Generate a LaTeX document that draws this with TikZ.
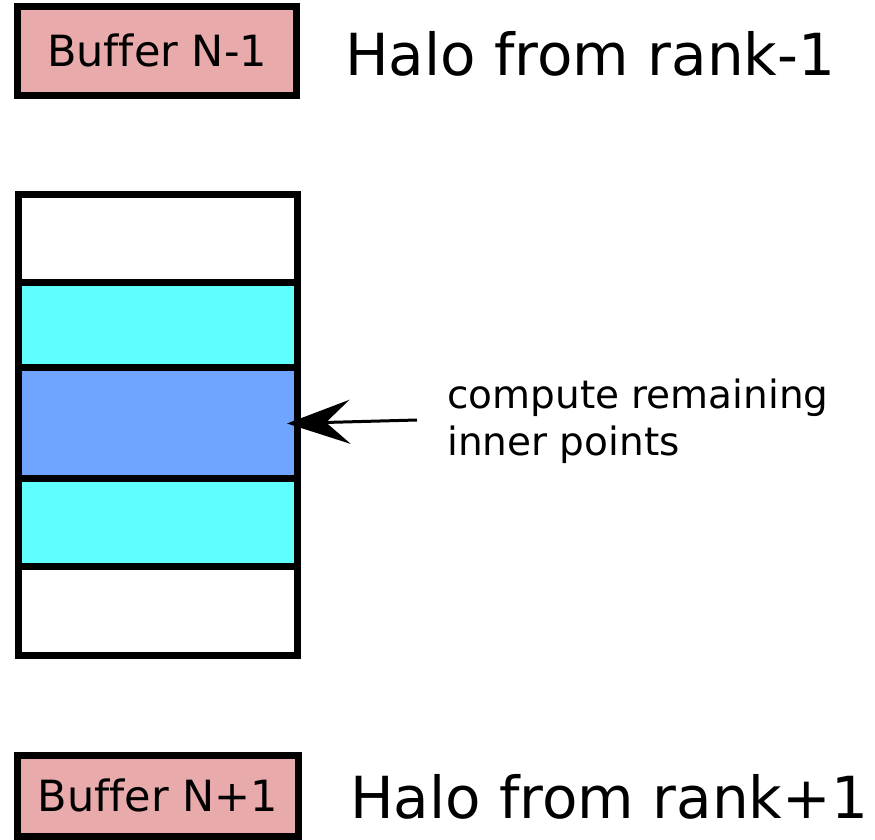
\documentclass[tikz,border=0pt]{standalone}
\usepackage{fontspec}
\setmainfont[Ligatures=NoCommon]{DejaVu Sans}
\usetikzlibrary{arrows.meta}
\definecolor{bufpink}{RGB}{232,170,170}
\definecolor{cellcyan}{RGB}{96,255,255}
\definecolor{cellblue}{RGB}{112,165,255}
\begin{document}
\begin{tikzpicture}[x=1pt,y=1pt,
  box/.style={draw=black,line width=7pt,rectangle,inner sep=0pt,outer sep=0pt},
  bufbox/.style={box,fill=bufpink,font=\fontsize{43}{51}\selectfont},
  cell/.style={box,minimum width=279pt,anchor=north west},
  halo/.style={anchor=base west,inner sep=0pt,font=\fontsize{58}{69}\selectfont},
  note/.style={anchor=base west,inner sep=0pt,font=\fontsize{39}{47}\selectfont}]
\useasboundingbox (0,0) rectangle (875,-839);
% top buffer
\node[bufbox,minimum width=279pt,minimum height=88.5pt] (bufA) at (157,-50.75) {Buffer N-1};
\node[halo] (haloA) at (345,-75) {Halo from rank-1};
% stack
\node[cell,fill=white,minimum height=88pt] (c1) at (18,-194) {};
\node[cell,fill=cellcyan,minimum height=85pt] (c2) at (18,-282) {};
\node[cell,fill=cellblue,minimum height=111pt] (c3) at (18,-367) {};
\node[cell,fill=cellcyan,minimum height=88pt] (c4) at (18,-478) {};
\node[cell,fill=white,minimum height=89pt] (c5) at (18,-566) {};
% label and arrow
\node[note] (lbl1) at (447,-408) {compute remaining};
\node[note] (lbl2) at (447,-455) {inner points};
\coordinate (astart) at ([xshift=-30pt]lbl1.base west |- 0,-420);
\draw[line width=3pt,-{Stealth[length=63pt,width=44pt,inset=24pt]}] (astart) -- ([xshift=-10pt,yshift=-1pt]c3.east);
% bottom buffer
\node[bufbox,minimum width=280.5pt,minimum height=81pt] (bufB) at (157.75,-795.5) {Buffer N+1};
\node[halo] (haloB) at (350,-818) {Halo from rank+1};
\end{tikzpicture}
\end{document}
